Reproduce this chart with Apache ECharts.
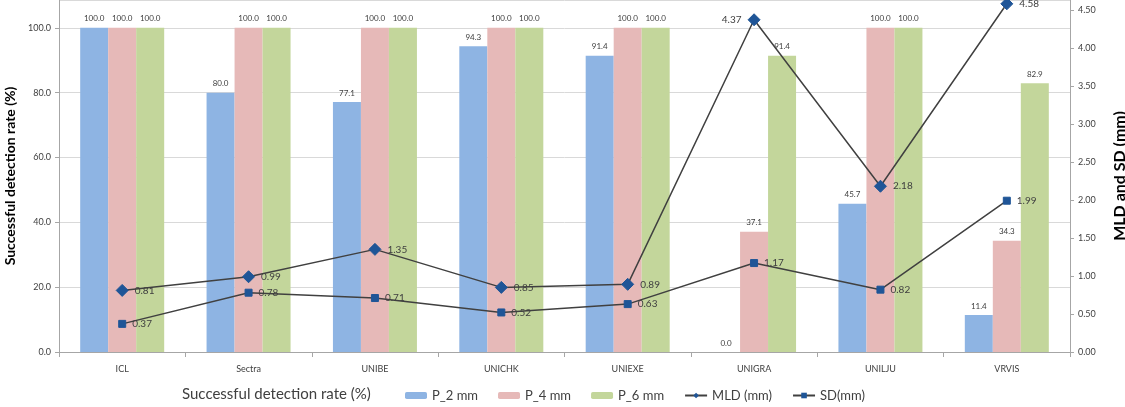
<!DOCTYPE html>
<html>
<head>
<meta charset="utf-8">
<script src="https://cdn.jsdelivr.net/npm/echarts@6/dist/echarts.min.js"></script>
<style>
    html, body { margin: 0; padding: 0; background: #fff; }
    #chart { width: 1125px; height: 407px; }
</style>
</head>
<body>
<div id="chart"></div>
<script>
var categories = ['ICL', 'Sectra', 'UNIBE', 'UNICHK', 'UNIEXE', 'UNIGRA', 'UNILJU', 'VRVIS'];
var p2 = [100.0, 80.0, 77.1, 94.3, 91.4, 0.0, 45.7, 11.4];
var p4 = [100.0, 100.0, 100.0, 100.0, 100.0, 37.1, 100.0, 34.3];
var p6 = [100.0, 100.0, 100.0, 100.0, 100.0, 91.4, 100.0, 82.9];
var mld = [0.81, 0.99, 1.35, 0.85, 0.89, 4.37, 2.18, 4.58];
var sd = [0.37, 0.78, 0.71, 0.52, 0.63, 1.17, 0.82, 1.99];

var font = 'Lato, "Open Sans", sans-serif';
var myChart = echarts.init(document.getElementById('chart'));

function barSeries(name, data, color) {
    return {
        name: name,
        type: 'bar',
        data: data,
        barWidth: 28,
        barGap: '0%',
        itemStyle: { color: color },
        label: {
            show: true,
            position: 'top',
            distance: 5,
            fontSize: 8,
            fontFamily: font,
            color: '#404040',
            formatter: function(p) { return p.value.toFixed(1); }
        }
    };
}

function lineSeries(name, data, symbol, size) {
    return {
        name: name,
        type: 'line',
        yAxisIndex: 1,
        data: data,
        symbol: symbol,
        symbolSize: size,
        z: 5,
        lineStyle: { color: '#404040', width: 1.5 },
        itemStyle: { color: '#1f5597', borderColor: '#1f5597' },
        label: {
            show: true,
            position: 'right',
            distance: 6,
            fontSize: 10,
            fontFamily: font,
            color: '#404040',
            formatter: function(p) { return p.value.toFixed(2); }
        }
    };
}

var mldSeries = lineSeries('MLD (mm)', mld, 'diamond', 12);
// 4.37 label sits left of its marker
mldSeries.data = mld.map(function(v, i) {
    if (i === 5) return { value: v, label: { position: 'left' } };
    return v;
});

var option = {
    animation: false,
    textStyle: { fontFamily: font },
    title: {
        text: 'Successful detection rate (%)',
        left: 182,
        top: 387,
        padding: 0,
        textStyle: { fontSize: 15, fontWeight: 'normal', color: '#404040', fontFamily: font }
    },
    legend: {
        left: 405,
        top: 389,
        padding: 0,
        itemWidth: 22,
        itemHeight: 7,
        itemGap: 20,
        textStyle: { fontSize: 13, color: '#404040', fontFamily: font },
        data: ['P_2 mm', 'P_4 mm', 'P_6 mm', 'MLD (mm)', 'SD(mm)']
    },
    grid: { left: 59, right: 55, top: 0, bottom: 55, outerBoundsMode: 'none' },
    xAxis: {
        type: 'category',
        data: categories,
        axisLine: { lineStyle: { color: '#a6a6a6' } },
        axisTick: { show: true, length: 5, lineStyle: { color: '#a6a6a6' } },
        axisLabel: { fontSize: 9, color: '#404040', margin: 13 }
    },
    yAxis: [{
        type: 'value',
        min: 0,
        max: 108.6,
        interval: 20,
        name: 'Successful detection rate (%)',
        nameLocation: 'middle',
        nameGap: 36,
        nameTextStyle: { fontSize: 14, fontWeight: 'bold', color: '#000' },
        axisLine: { show: true, lineStyle: { color: '#a6a6a6' } },
        axisTick: { show: true, length: 4, lineStyle: { color: '#a6a6a6' } },
        axisLabel: {
            fontSize: 9,
            color: '#404040',
            margin: 8,
            showMaxLabel: false,
            formatter: function(v) { return v.toFixed(1); }
        },
        splitLine: { lineStyle: { color: '#d9d9d9' } }
    }, {
        type: 'value',
        min: 0,
        max: 4.63,
        interval: 0.5,
        name: 'MLD and SD (mm)',
        nameLocation: 'middle',
        nameGap: 42,
        nameRotate: 90,
        nameTextStyle: { fontSize: 16, fontWeight: 'bold', color: '#000' },
        axisLine: { show: true, lineStyle: { color: '#a6a6a6' } },
        axisTick: { show: true, length: 4, lineStyle: { color: '#a6a6a6' } },
        axisLabel: {
            fontSize: 9,
            color: '#404040',
            margin: 8,
            showMaxLabel: false,
            formatter: function(v) { return v.toFixed(2); }
        },
        splitLine: { show: false }
    }],
    series: [
        barSeries('P_2 mm', p2, '#8eb4e3'),
        barSeries('P_4 mm', p4, '#e6b9b8'),
        barSeries('P_6 mm', p6, '#c3d69b'),
        mldSeries,
        lineSeries('SD(mm)', sd, 'rect', 7)
    ]
};
myChart.setOption(option);
</script>
</body>
</html>
